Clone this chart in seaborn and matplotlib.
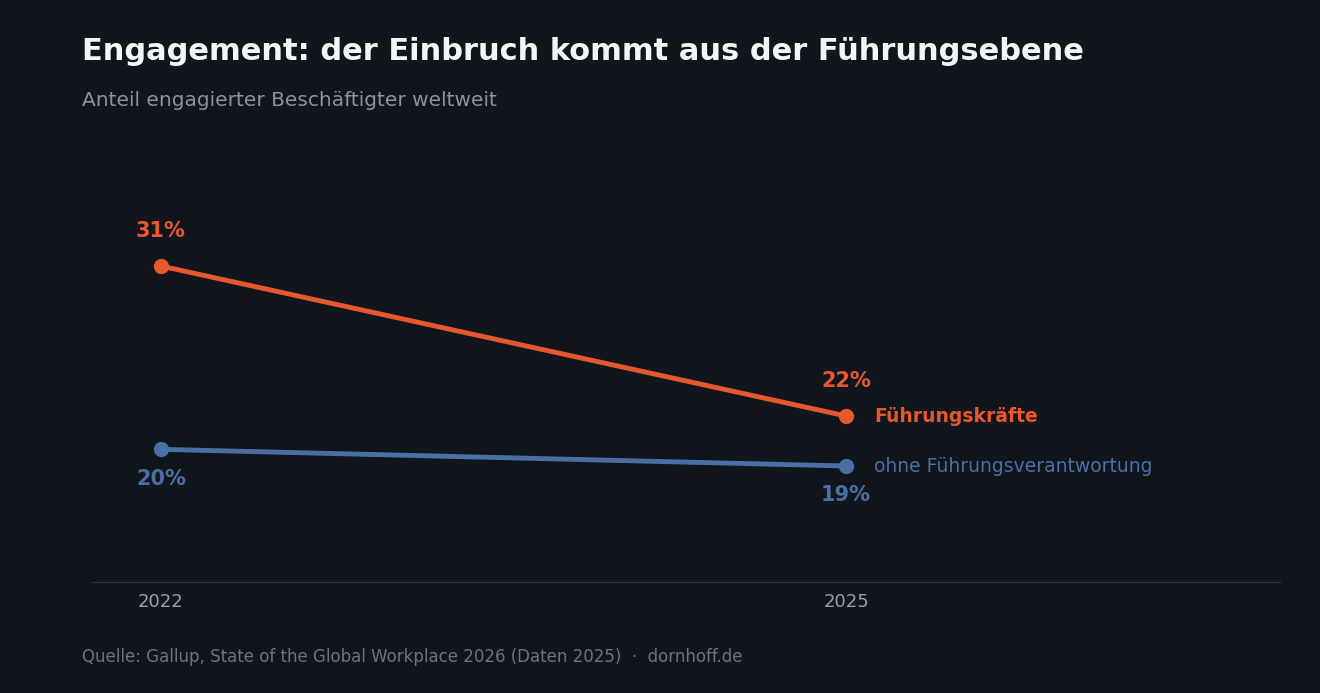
import matplotlib
matplotlib.use("Agg")
import matplotlib.pyplot as plt
import seaborn as sns
import pandas as pd

years = [2022, 2025]
leaders = [31, 22]
nonleaders = [20, 19]
series_names = ["Führungskräfte", "ohne Führungsverantwortung"]

bg = "#11151c"
c_lead = "#e8582e"
c_non = "#4a6fa5"

sns.set_theme(style="dark")
plt.rcParams['font.family'] = ['DejaVu Sans']

df = pd.DataFrame({
    "year": years * 2,
    "value": leaders + nonleaders,
    "group": [series_names[0]] * 2 + [series_names[1]] * 2,
})

fig = plt.figure(figsize=(13.2, 6.93), dpi=100, facecolor=bg)
ax = fig.add_axes([92/1320, 1-582/693, (1280-92)/1320, (582-140)/693])
ax.set_facecolor(bg)
sns.lineplot(data=df, x="year", y="value", hue="group",
             palette=[c_lead, c_non], linewidth=3.5, marker="o",
             markersize=11, markeredgewidth=0, legend=False, ax=ax)
ax.set_xlim(2021.698, 2026.90)
ax.set_ylim(12.04, 38.56)
ax.set_xticks(years)
ax.set_xticklabels([str(y) for y in years])
ax.tick_params(axis="x", colors="#9aa0a8", labelsize=13, length=0, pad=8)
ax.set_yticks([])
ax.set_xlabel(""); ax.set_ylabel("")
ax.grid(False)
for s in ["top", "right", "left"]:
    ax.spines[s].set_visible(False)
ax.spines["bottom"].set_color("#2e323a")
ax.spines["bottom"].set_linewidth(1)

for x, v in zip(years, leaders):
    ax.annotate(f"{v}%", (x, v), xytext=(0, 18), textcoords="offset points",
                ha="center", va="bottom", color=c_lead, fontsize=15, fontweight="bold")
for x, v in zip(years, nonleaders):
    ax.annotate(f"{v}%", (x, v), xytext=(0, -14), textcoords="offset points",
                ha="center", va="top", color=c_non, fontsize=15, fontweight="bold")

ax.annotate(series_names[0], (years[-1], leaders[-1]), xytext=(20, 0),
            textcoords="offset points", ha="left", va="center",
            color=c_lead, fontsize=13.5, fontweight="bold")
ax.annotate(series_names[1], (years[-1], nonleaders[-1]), xytext=(20, 0),
            textcoords="offset points", ha="left", va="center",
            color=c_non, fontsize=13.5)

fig.text(82/1320, 1-52/693, "Engagement: der Einbruch kommt aus der Führungsebene",
         color="#f4f5f7", fontsize=22, fontweight="bold", va="center", ha="left")
fig.text(82/1320, 1-101/693, "Anteil engagierter Beschäftigter weltweit",
         color="#8b93a0", fontsize=14.5, va="center", ha="left")
fig.text(82/1320, 1-657/693,
         "Quelle: Gallup, State of the Global Workplace 2026 (Daten 2025)  ·  dornhoff.de",
         color="#6c737e", fontsize=12, va="center", ha="left")

fig.savefig("out.png", dpi=100, facecolor=bg)
